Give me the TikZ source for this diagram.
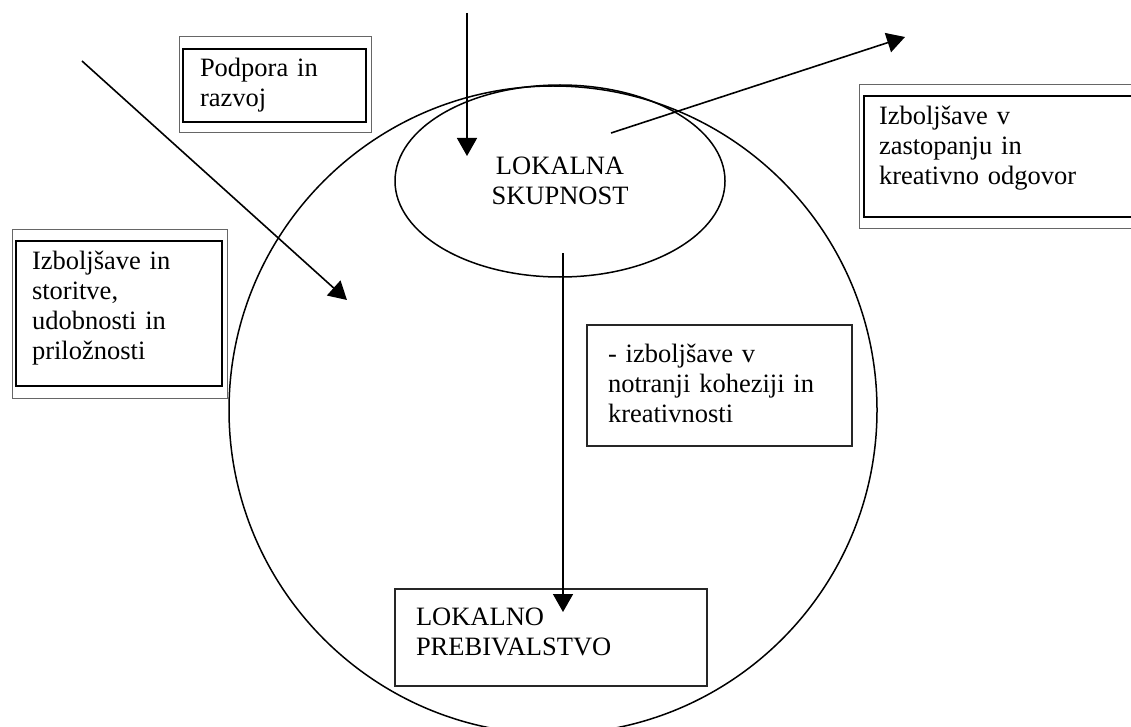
\documentclass[tikz,border=0pt]{standalone}
\usepackage{fontspec}
\setmainfont{Liberation Serif}
\usetikzlibrary{shapes.geometric,arrows.meta}

\begin{document}
\begin{tikzpicture}[x=1pt, y=-1pt, font=\fontsize{26.5pt}{30pt}\selectfont,
    okvir/.style={draw, line width=2pt, outer sep=0pt, anchor=north west, align=left, inner ysep=0pt},
    polje/.style={draw=black!85, line width=1.5pt, outer sep=0pt, anchor=north west, align=left, inner ysep=0pt},
    zunanji/.style={draw=black!60, line width=1pt},
    puscica/.style={-{Triangle[length=18pt,width=20pt]}, line width=1.6pt}]
        \path[use as bounding box, clip] (0,0) rectangle (1131,727);

        \node [draw,circle,line width=1.5pt,minimum size=648pt,inner sep=0pt] (krog) at (553,410) {};
        \node [draw,ellipse,line width=1.5pt,minimum width=330pt,minimum height=192pt,inner sep=0pt,align=center] (skupnost) at (560,181) {LOKALNA\\SKUPNOST};

        \node [okvir, inner xsep=17pt, text width=149pt, text height=28pt, text depth=45pt] (podpora) at (183,49) {Podpora in\\razvoj};
        \node [okvir, inner xsep=15pt, text width=256pt, text height=29pt, text depth=92pt] (zastopanje) at (864,96) {Izboljšave v\\zastopanju in\\kreativno odgovor};
        \node [okvir, inner xsep=16pt, text width=174pt, text height=28pt, text depth=117pt] (storitve) at (16,241) {Izboljšave in\\storitve,\\udobnosti in\\priložnosti};
        \node [polje, inner xsep=21pt, text width=223pt, text height=37pt, text depth=84pt] (kohezija) at (587,325) {- izboljšave v\\notranji koheziji in\\kreativnosti};
        \node [polje, inner xsep=21pt, text width=270pt, text height=36pt, text depth=61pt] (prebivalstvo) at (395,589) {LOKALNO\\PREBIVALSTVO};

        \draw [zunanji] ([shift={(-4,-12)}]podpora.north west) rectangle ([shift={(5,11)}]podpora.south east);
        \draw [zunanji] ([shift={(-5,-11)}]zastopanje.north west) rectangle ([shift={(5,12)}]zastopanje.south east);
        \draw [zunanji] ([shift={(-4,-11)}]storitve.north west) rectangle ([shift={(5,12)}]storitve.south east);

        \coordinate (vhod) at (467,13);
        \coordinate (vhodKonec) at (467,156);
        \coordinate (levo) at (82,61);
        \coordinate (levoKonec) at (347,300);
        \coordinate (izhod) at (611,133);
        \coordinate (izhodKonec) at (905,37);
        \coordinate (navzdol) at (563,253);
        \coordinate (navzdolKonec) at (563,612);

        \draw [puscica] (vhod) -- (vhodKonec);
        \draw [puscica] (levo) -- (levoKonec);
        \draw [puscica] (izhod) -- (izhodKonec);
        \draw [puscica] (navzdol) -- (navzdolKonec);
      \end{tikzpicture}
\end{document}
